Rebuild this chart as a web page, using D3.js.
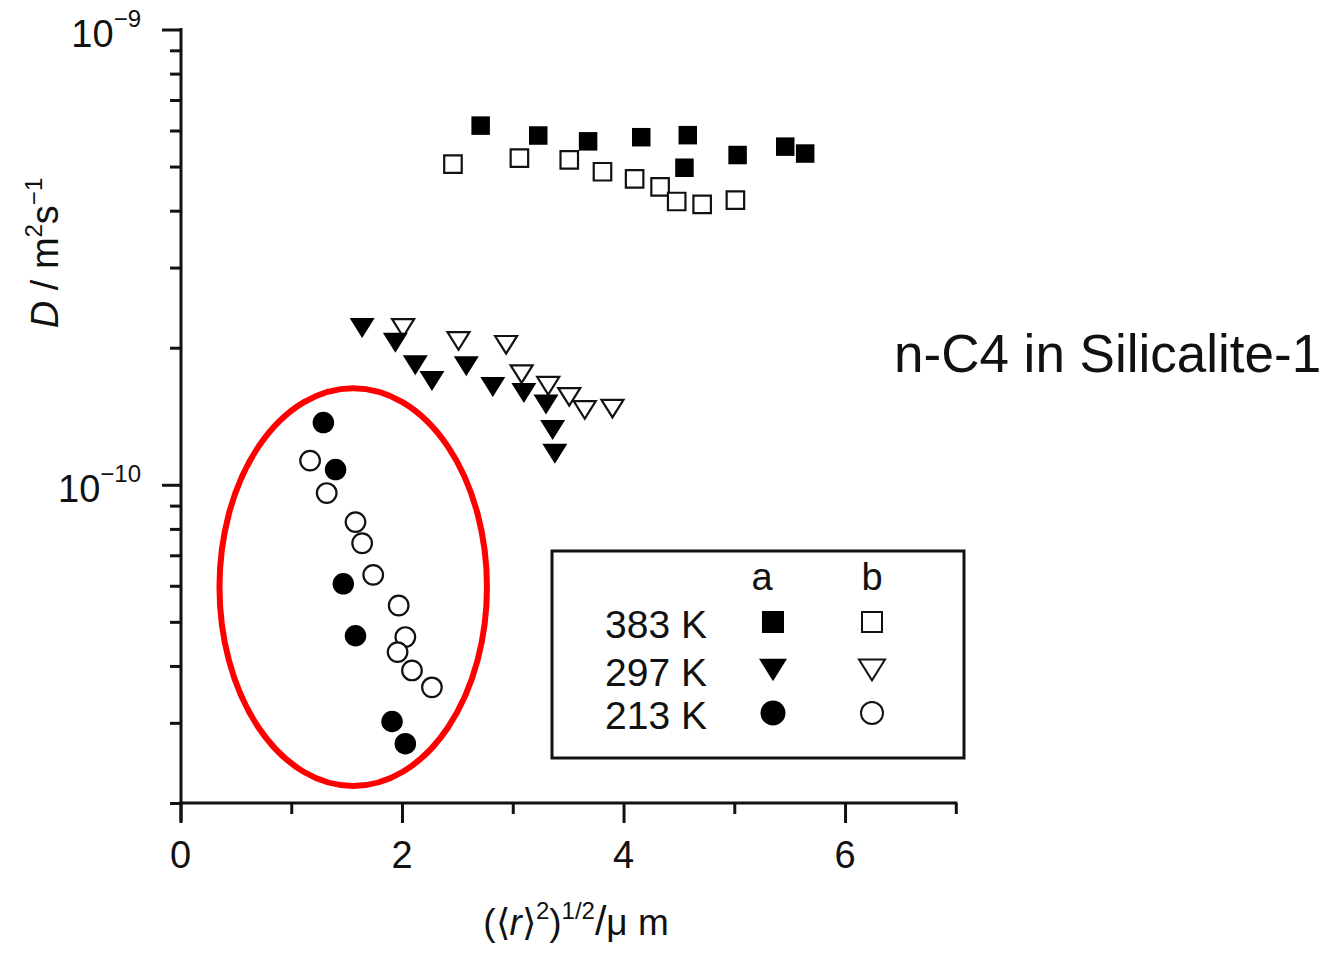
<!DOCTYPE html>
<html>
<head>
<meta charset="utf-8">
<script src="https://cdn.jsdelivr.net/npm/d3@7/dist/d3.min.js"></script>
<style>
body { margin: 0; background: #fff; }
text { font-family: "Liberation Sans", Arial, sans-serif; fill: #111; }
</style>
</head>
<body>
<script>
// D (m^2/s) against rms displacement (um). a = filled, b = open
var sq383a = [[2.71,6.15e-10],[3.23,5.85e-10],[3.68,5.68e-10],[4.16,5.80e-10],[4.58,5.86e-10],
              [4.55,4.97e-10],[5.03,5.30e-10],[5.46,5.53e-10],[5.64,5.34e-10]];
var sq383b = [[2.46,5.06e-10],[3.06,5.22e-10],[3.51,5.17e-10],[3.81,4.87e-10],[4.10,4.70e-10],
              [4.33,4.51e-10],[4.48,4.19e-10],[4.71,4.13e-10],[5.01,4.22e-10]];
var tri297a = [[1.64,2.21e-10],[1.94,2.05e-10],[2.12,1.83e-10],[2.27,1.69e-10],[2.58,1.82e-10],
               [2.82,1.64e-10],[3.10,1.59e-10],[3.30,1.50e-10],[3.36,1.32e-10],[3.38,1.17e-10]];
var tri297b = [[2.01,2.21e-10],[2.51,2.07e-10],[2.94,2.03e-10],[3.08,1.75e-10],[3.32,1.65e-10],
               [3.51,1.56e-10],[3.65,1.46e-10],[3.90,1.47e-10]];
var cir213a = [[1.29,1.37e-10],[1.40,1.08e-10],[1.47,6.06e-11],[1.58,4.66e-11],[1.91,3.02e-11],[2.03,2.70e-11]];
var cir213b = [[1.17,1.13e-10],[1.32,9.59e-11],[1.58,8.28e-11],[1.64,7.44e-11],[1.74,6.34e-11],
               [1.97,5.43e-11],[2.03,4.63e-11],[1.96,4.29e-11],[2.09,3.91e-11],[2.27,3.59e-11]];

var xTickMajor = [0, 2, 4, 6];
var xTickMinor = [1, 3, 5, 7];
var yTickMajor = [1e-10, 1e-9];
var yTickExp = ["\u221210", "\u22129"];
var yTickMinor = [2e-11,3e-11,4e-11,5e-11,6e-11,7e-11,8e-11,9e-11,
                  2e-10,3e-10,4e-10,5e-10,6e-10,7e-10,8e-10,9e-10];

var legendTemps = ["383 K", "297 K", "213 K"];
var legendShapes = ["square", "triangle", "circle"];
var legendCols = ["a", "b"];

// circled group (213 K), in data units
var ringBounds = { r0: 0.352, r1: 2.767, D0: 2.18e-11, D1: 1.63e-10 };

var W = 1331, H = 953;
var svg = d3.select("body").append("svg").attr("width", W).attr("height", H);

var x = d3.scaleLinear().domain([0, 7]).range([180.5, 955.8]);
var y = d3.scaleLog().domain([2e-11, 1e-9]).range([803, 29.5]);

/**
 * Path for one marker centred on 0,0.
 */
function markerPath(shape, s) {
    if (shape == "square") {
        return "M" + (-s/2) + "," + (-s/2) + "h" + s + "v" + s + "h" + (-s) + "Z";
    } else if (shape == "triangle") {
        var w = s, h = s*0.8;
        return "M" + (-w/2) + "," + (-h/2) + "L" + (w/2) + "," + (-h/2) + "L0," + (h/2) + "Z";
    }
    var p = d3.path();
    p.arc(0, 0, s/2, 0, 2*Math.PI);
    p.closePath();
    return p.toString();
}

// axes
var axisG = svg.append("g").attr("class", "axes");

axisG.append("g").attr("transform", "translate(0,803)")
    .call(d3.axisBottom(x).tickValues(xTickMajor).tickSize(20).tickSizeOuter(0).tickFormat(""));
axisG.append("g").attr("transform", "translate(0,803)")
    .call(d3.axisBottom(x).tickValues(xTickMinor).tickSize(11).tickSizeOuter(0).tickFormat(""));
axisG.append("g").attr("transform", "translate(181,0)")
    .call(d3.axisLeft(y).tickValues(yTickMajor).tickSize(19).tickSizeOuter(0).tickFormat(""));
axisG.append("g").attr("transform", "translate(181,0)")
    .call(d3.axisLeft(y).tickValues(yTickMinor).tickSize(11).tickSizeOuter(0).tickFormat(""));

axisG.selectAll(".domain").remove();
axisG.selectAll(".tick line").attr("stroke", "#111").attr("stroke-width", 3);

axisG.append("line")
    .attr("x1", x(0) - 1).attr("x2", x(7) + 1.5)
    .attr("y1", 803).attr("y2", 803)
    .attr("stroke", "#111").attr("stroke-width", 3);
axisG.append("line")
    .attr("x1", 181).attr("x2", 181)
    .attr("y1", y(1e-9) - 1.5).attr("y2", 822)
    .attr("stroke", "#111").attr("stroke-width", 3);

// tick labels
axisG.selectAll(".xlab").data(xTickMajor).enter().append("text")
    .attr("class", "xlab")
    .attr("x", function(d) { return x(d); })
    .attr("y", 868)
    .attr("text-anchor", "middle")
    .style("font-size", "38px")
    .text(function(d) { return d; });

yTickMajor.forEach(function(v, i) {
    var t = axisG.append("text")
        .attr("x", 141).attr("y", y(v) + 17)
        .attr("text-anchor", "end")
        .style("font-size", "38px");
    t.append("tspan").text("10");
    t.append("tspan").attr("dy", -20).style("font-size", "24px").text(yTickExp[i]);
});

// axis titles
var xt = svg.append("text")
    .attr("x", 576).attr("y", 935)
    .attr("text-anchor", "middle")
    .style("font-size", "37px");
xt.append("tspan").text("(\u27E8");
xt.append("tspan").style("font-style", "italic").text("r");
xt.append("tspan").text("\u27E9");
xt.append("tspan").attr("dy", -16).style("font-size", "24px").text("2");
xt.append("tspan").attr("dy", 16).text(")");
xt.append("tspan").attr("dy", -16).style("font-size", "24px").text("1/2");
xt.append("tspan").attr("dy", 16).style("font-size", "41px").text("/");
xt.append("tspan").text("\u03BC m");

var yt = svg.append("text")
    .attr("transform", "translate(58,253) rotate(-90)")
    .attr("text-anchor", "middle")
    .style("font-size", "38px");
yt.append("tspan").style("font-style", "italic").text("D");
yt.append("tspan").text(" / m");
yt.append("tspan").attr("dy", -16).style("font-size", "24px").text("2");
yt.append("tspan").attr("dy", 16).text("s");
yt.append("tspan").attr("dy", -16).style("font-size", "24px").text("\u22121");

// data series: open ones first so filled sit on top
var series = [
    { data: sq383b, shape: "square", filled: false, size: 17.5 },
    { data: tri297b, shape: "triangle", filled: false, size: 22 },
    { data: cir213b, shape: "circle", filled: false, size: 19.6 },
    { data: sq383a, shape: "square", filled: true, size: 18.5 },
    { data: tri297a, shape: "triangle", filled: true, size: 25 },
    { data: cir213a, shape: "circle", filled: true, size: 21.5 }
];

series.forEach(function(s) {
    svg.append("g").selectAll("path")
        .data(s.data)
        .enter()
        .append("path")
        .attr("transform", function(d) { return "translate(" + x(d[0]) + "," + y(d[1]) + ")"; })
        .attr("d", markerPath(s.shape, s.size))
        .attr("fill", s.filled ? "#000" : "#fff")
        .attr("stroke", s.filled ? "none" : "#111")
        .attr("stroke-width", 2.2);
});

// red ring
var rcx = (x(ringBounds.r0) + x(ringBounds.r1))/2;
var rcy = (y(ringBounds.D0) + y(ringBounds.D1))/2;
svg.append("ellipse")
    .attr("cx", rcx).attr("cy", rcy)
    .attr("rx", (x(ringBounds.r1) - x(ringBounds.r0))/2)
    .attr("ry", (y(ringBounds.D0) - y(ringBounds.D1))/2)
    .attr("fill", "none")
    .attr("stroke", "#f00")
    .attr("stroke-width", 6);

// legend
var lg = svg.append("g").attr("transform", "translate(552,551)");
lg.append("rect")
    .attr("width", 412).attr("height", 207)
    .attr("fill", "#fff").attr("stroke", "#111").attr("stroke-width", 3);

var colX = [221, 320];
lg.selectAll(".lcol").data(legendCols).enter().append("text")
    .attr("x", function(d, i) { return i == 0 ? 210 : 320; })
    .attr("y", 39)
    .attr("text-anchor", "middle")
    .style("font-size", "38px")
    .text(function(d) { return d; });

var rowY = [71, 119, 162];
legendTemps.forEach(function(t, i) {
    lg.append("text")
        .attr("x", 53).attr("y", rowY[i] + 16)
        .style("font-size", "39px")
        .text(t);
    var sizeA = legendShapes[i] == "triangle" ? 28 : (legendShapes[i] == "circle" ? 25 : 22);
    var sizeB = legendShapes[i] == "triangle" ? 26 : (legendShapes[i] == "circle" ? 22 : 20);
    lg.append("path")
        .attr("transform", "translate(" + colX[0] + "," + rowY[i] + ")")
        .attr("d", markerPath(legendShapes[i], sizeA))
        .attr("fill", "#000");
    lg.append("path")
        .attr("transform", "translate(" + colX[1] + "," + rowY[i] + ")")
        .attr("d", markerPath(legendShapes[i], sizeB))
        .attr("fill", "#fff").attr("stroke", "#111").attr("stroke-width", 2);
});

// side note
svg.append("text")
    .attr("x", 894).attr("y", 372)
    .style("font-size", "53px")
    .text("n-C4 in Silicalite-1");
</script>
</body>
</html>
